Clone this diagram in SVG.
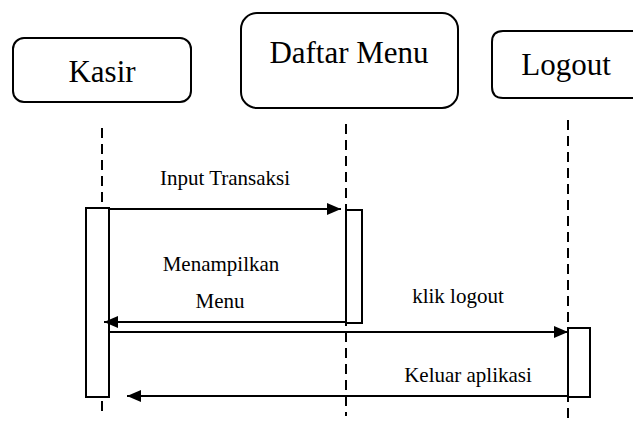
<svg xmlns="http://www.w3.org/2000/svg" width="633" height="433" viewBox="0 0 633 433">
<style>
.box{fill:#fff;stroke:#000;stroke-width:2}
.act{fill:#fff;stroke:#000;stroke-width:2}
.life{stroke:#000;stroke-width:2;stroke-dasharray:10 6;fill:none}
.msg{stroke:#000;stroke-width:2;fill:none}
text{font-family:'Liberation Serif','DejaVu Serif',serif;fill:#000;text-anchor:middle}
.title{font-size:31px}
.lbl{font-size:21px}
</style>
<defs>
<marker id="ah" markerWidth="14" markerHeight="12" refX="14" refY="6" orient="auto" markerUnits="userSpaceOnUse">
<path d="M0,0 L14,6 L0,12 Z" fill="#000"/>
</marker>
</defs>
<g id="lifelines">
<line class="life" x1="102" y1="128" x2="102" y2="208"/>
<line class="life" x1="102" y1="401" x2="102" y2="412"/>
<line class="life" x1="346" y1="124" x2="346" y2="416"/>
<line class="life" x1="568" y1="120" x2="568" y2="418"/>
</g>
<g id="kasir">
<rect class="box" x="13" y="38" width="178" height="64" rx="11"/>
<text class="title" x="102" y="82">Kasir</text>
<rect class="act" x="86" y="208" width="23" height="189"/>
</g>
<g id="daftar-menu">
<rect class="box" x="241" y="13" width="217" height="95" rx="16"/>
<text class="title" x="349" y="63">Daftar Menu</text>
<rect class="act" x="346" y="210" width="16" height="113"/>
</g>
<g id="logout">
<path class="box" d="M633,31 L503,31 Q492,31 492,42 L492,87 Q492,98 503,98 L633,98"/>
<text class="title" x="566" y="75">Logout</text>
<rect class="act" x="568" y="328" width="22" height="69"/>
</g>
<g id="connectors">
<line class="msg" x1="109" y1="209" x2="341" y2="209" marker-end="url(#ah)"/>
<line class="msg" x1="346" y1="322" x2="104" y2="322" marker-end="url(#ah)"/>
<line class="msg" x1="109" y1="332" x2="568" y2="332" marker-end="url(#ah)"/>
<line class="msg" x1="568" y1="396" x2="127" y2="396" marker-end="url(#ah)"/>
</g>
<g id="labels">
<text class="lbl" x="225" y="185">Input Transaksi</text>
<text class="lbl" x="221" y="271">Menampilkan</text>
<text class="lbl" x="220" y="308">Menu</text>
<text class="lbl" x="458" y="303">klik logout</text>
<text class="lbl" x="468" y="382">Keluar aplikasi</text>
</g>
</svg>
